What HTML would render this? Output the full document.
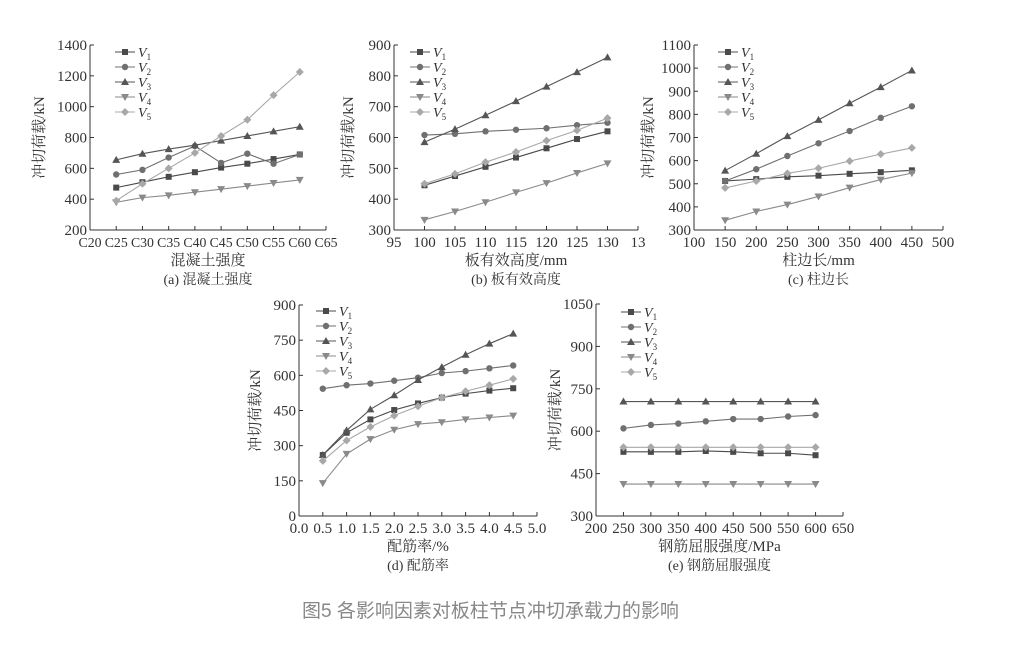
<!DOCTYPE html>
<html><head><meta charset="utf-8"><style>
body{margin:0;background:#fff;width:1034px;height:646px;overflow:hidden}
svg{position:absolute;left:0;top:0}
text{font-family:"Liberation Serif","Noto Serif CJK SC",serif;fill:#333}
.cap{font-family:"Liberation Sans","Noto Sans CJK SC",sans-serif;fill:#888;font-size:19px}
</style></head><body>
<svg id="s" width="1034" height="646" xmlns="http://www.w3.org/2000/svg"></svg>
<script>
const S=document.getElementById('s');let h='';
const cols=['#4a4a4a','#707070','#555','#8a8a8a','#a8a8a8'];
const mk=['sq','ci','tu','td','di'];
function m(t,x,y,c){
 if(t=='sq')return `<rect x="${x-3}" y="${y-3}" width="6" height="6" fill="${c}"/>`;
 if(t=='ci')return `<circle cx="${x}" cy="${y}" r="3.2" fill="${c}"/>`;
 if(t=='tu')return `<polygon points="${x},${y-4} ${x-4},${y+3} ${x+4},${y+3}" fill="${c}"/>`;
 if(t=='td')return `<polygon points="${x},${y+4} ${x-4},${y-3} ${x+4},${y-3}" fill="${c}"/>`;
 return `<polygon points="${x},${y-4} ${x+4},${y} ${x},${y+4} ${x-4},${y}" fill="${c}"/>`;
}
function plot(c){
 const X=v=>c.x0+(v-c.xmin)/(c.xmax-c.xmin)*(c.x1-c.x0);
 const Y=v=>c.yb+(v-c.ymin)/(c.ymax-c.ymin)*(c.yt-c.yb);
 h+=`<line x1="${c.x0}" y1="${c.yt}" x2="${c.x0}" y2="${c.yb}" stroke="#333"/>`;
 h+=`<line x1="${c.x0}" y1="${c.yb}" x2="${c.x1}" y2="${c.yb}" stroke="#333"/>`;
 for(let v=c.ymin;v<=c.ymax+1e-9;v+=c.ys){const y=Y(v);
  h+=`<line x1="${c.x0}" y1="${y}" x2="${c.x0+4}" y2="${y}" stroke="#333"/>`;
  h+=`<text x="${c.x0-3}" y="${y+5}" font-size="15" text-anchor="end">${v}</text>`;}
 const xf=c.xf||15;
 c.xt.forEach((l,i)=>{const v=c.xmin+i*c.xs,x=X(v);
  h+=`<line x1="${x}" y1="${c.yb}" x2="${x}" y2="${c.yb-4}" stroke="#333"/>`;
  h+=`<text x="${x}" y="${c.yb+17}" font-size="${xf}" text-anchor="middle"${c.xw?` textLength="${c.xw}" lengthAdjust="spacingAndGlyphs"`:''}>${l}</text>`;});
 c.d.forEach((s,k)=>{const pts=s.map((v,i)=>[X(c.px[i]),Y(v)]);
  h+=`<polyline points="${pts.map(p=>p.join(',')).join(' ')}" fill="none" stroke="${cols[k]}" stroke-width="1.1"/>`;
  pts.forEach(p=>h+=m(mk[k],p[0],p[1],cols[k]));
  const ly=c.ly+k*15;
  h+=`<line x1="${c.lx}" y1="${ly}" x2="${c.lx+20}" y2="${ly}" stroke="${cols[k]}"/>`+m(mk[k],c.lx+10,ly,cols[k]);
  h+=`<text x="${c.lx+23}" y="${ly+5}" font-size="14" font-style="italic">V<tspan font-size="9" dy="3" font-style="normal">${k+1}</tspan></text>`;});
 const cx=(c.x0+c.x1)/2, cy=(c.yt+c.yb)/2;
 h+=`<text x="${c.yl}" y="${cy}" font-size="15" text-anchor="middle" transform="rotate(-90 ${c.yl} ${cy})">冲切荷载/kN</text>`;
 h+=`<text x="${cx}" y="${c.yb+35}" font-size="15" text-anchor="middle">${c.xl}</text>`;
 h+=`<text x="${cx}" y="${c.yb+54}" font-size="14" text-anchor="middle">${c.cap}</text>`;
}
const r=(a,b,s)=>{let o=[];for(let v=a;v<=b+1e-9;v+=s)o.push(+v.toFixed(1));return o;};
plot({x0:90,x1:326,yt:45,yb:230,xmin:0,xmax:9,xs:1,ymin:200,ymax:1400,ys:200,xf:14,xw:23,
 xt:['C20','C25','C30','C35','C40','C45','C50','C55','C60','C65'],px:[1,2,3,4,5,6,7,8],
 d:[[475,510,545,575,605,630,660,690],[560,590,670,745,635,695,630,690],[655,695,725,750,780,810,840,870],[380,410,425,445,465,485,505,525],[390,500,600,700,810,915,1075,1225]],
 lx:115,ly:52,yl:44,xl:'混凝土强度',cap:'(a) 混凝土强度'});
plot({x0:394,x1:638,yt:45,yb:230,xmin:95,xmax:135,xs:5,ymin:300,ymax:900,ys:100,
 xt:['95','100','105','110','115','120','125','130','13'],px:[100,105,110,115,120,125,130],
 d:[[445,475,505,535,565,595,620],[608,612,620,625,630,640,648],[585,627,672,718,765,812,860],[333,360,390,422,452,485,516],[450,482,520,553,590,623,663]],
 lx:410,ly:52,yl:353,xl:'板有效高度/mm',cap:'(b) 板有效高度'});
plot({x0:694,x1:943,yt:45,yb:230,xmin:100,xmax:500,xs:50,ymin:300,ymax:1100,ys:100,
 xt:r(100,500,50),px:[150,200,250,300,350,400,450],
 d:[[512,520,530,535,543,550,558],[512,563,620,675,728,785,835],[557,630,706,776,848,918,990],[342,380,410,445,483,518,546],[482,512,545,567,598,628,655]],
 lx:718,ly:52,yl:653,xl:'柱边长/mm',cap:'(c) 柱边长'});
plot({x0:299,x1:537,yt:305,yb:516,xmin:0,xmax:5,xs:0.5,ymin:0,ymax:900,ys:150,
 xt:r(0,5,0.5).map(v=>v.toFixed(1)),px:r(0.5,4.5,0.5),
 d:[[260,355,412,452,480,505,522,535,545],[543,558,565,577,590,610,618,630,642],[260,365,455,515,580,635,688,735,778],[140,265,328,368,392,400,412,420,428],[235,322,380,428,468,505,532,558,585]],
 lx:316,ly:311,yl:260,xl:'配筋率/%',cap:'(d) 配筋率'});
plot({x0:596,x1:843,yt:304,yb:516,xmin:200,xmax:650,xs:50,ymin:300,ymax:1050,ys:150,
 xt:r(200,650,50),px:r(250,600,50),
 d:[[527,527,527,530,527,522,522,515],[610,622,627,635,643,643,652,657],Array(8).fill(705),Array(8).fill(413),Array(8).fill(543)],
 lx:621,ly:312,yl:560,xl:'钢筋屈服强度/MPa',cap:'(e) 钢筋屈服强度'});
h+=`<text class="cap" x="302" y="617">图5 各影响因素对板柱节点冲切承载力的影响</text>`;
S.innerHTML=h;
</script>
</body></html>
